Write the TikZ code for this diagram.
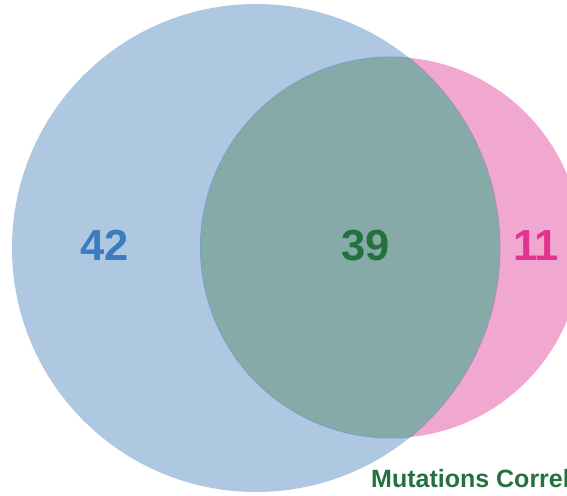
\documentclass[tikz,border=0pt]{standalone}
\usepackage{fontspec}
\setmainfont{Liberation Sans}
\usepackage{tikz}
\definecolor{setblue}{HTML}{AEC8E2}
\definecolor{setpink}{HTML}{F0A8D0}
\definecolor{setboth}{HTML}{86AAA8}
\definecolor{numblue}{HTML}{3B7BC0}
\definecolor{numgreen}{HTML}{25703F}
\definecolor{numpink}{HTML}{E2338E}
\definecolor{edgeblue}{HTML}{78A2CC}
\definecolor{edgemauve}{HTML}{A58FB8}

\begin{document}
\begin{tikzpicture}[x=1pt,y=-1pt,
  count/.style={inner sep=0pt,anchor=base,font=\fontsize{43.5}{48}\selectfont\bfseries},
  caption/.style={inner sep=0pt,anchor=base west,font=\fontsize{25}{28}\selectfont\bfseries}]

        \useasboundingbox (0,0) rectangle (567,495);

        \coordinate (bluec) at (256,248);
        \coordinate (pinkc) at (391,247.5);

        \fill[setblue] (bluec) circle[radius=244pt];
        \fill[setpink] (pinkc) circle[radius=190.5pt];
        \begin{scope}
          \clip (bluec) circle[radius=244pt];
          \fill[setboth] (pinkc) circle[radius=190.5pt];
          \draw[edgeblue,line width=1pt] (pinkc) circle[radius=190.5pt];
        \end{scope}
        \begin{scope}
          \clip (pinkc) circle[radius=190.5pt];
          \draw[edgemauve,line width=0.8pt] (bluec) circle[radius=244pt];
        \end{scope}

        \node[count,numblue]  (left)  at (104.5,260) {42};
        \node[count,numgreen] (mid)   at (365.5,260) {39};
        \node[count,numpink]  (right) at (536,260)   {11};

        \node[caption,numgreen] (title) at (371,487) {Mutations Correl};
      \end{tikzpicture}
\end{document}
